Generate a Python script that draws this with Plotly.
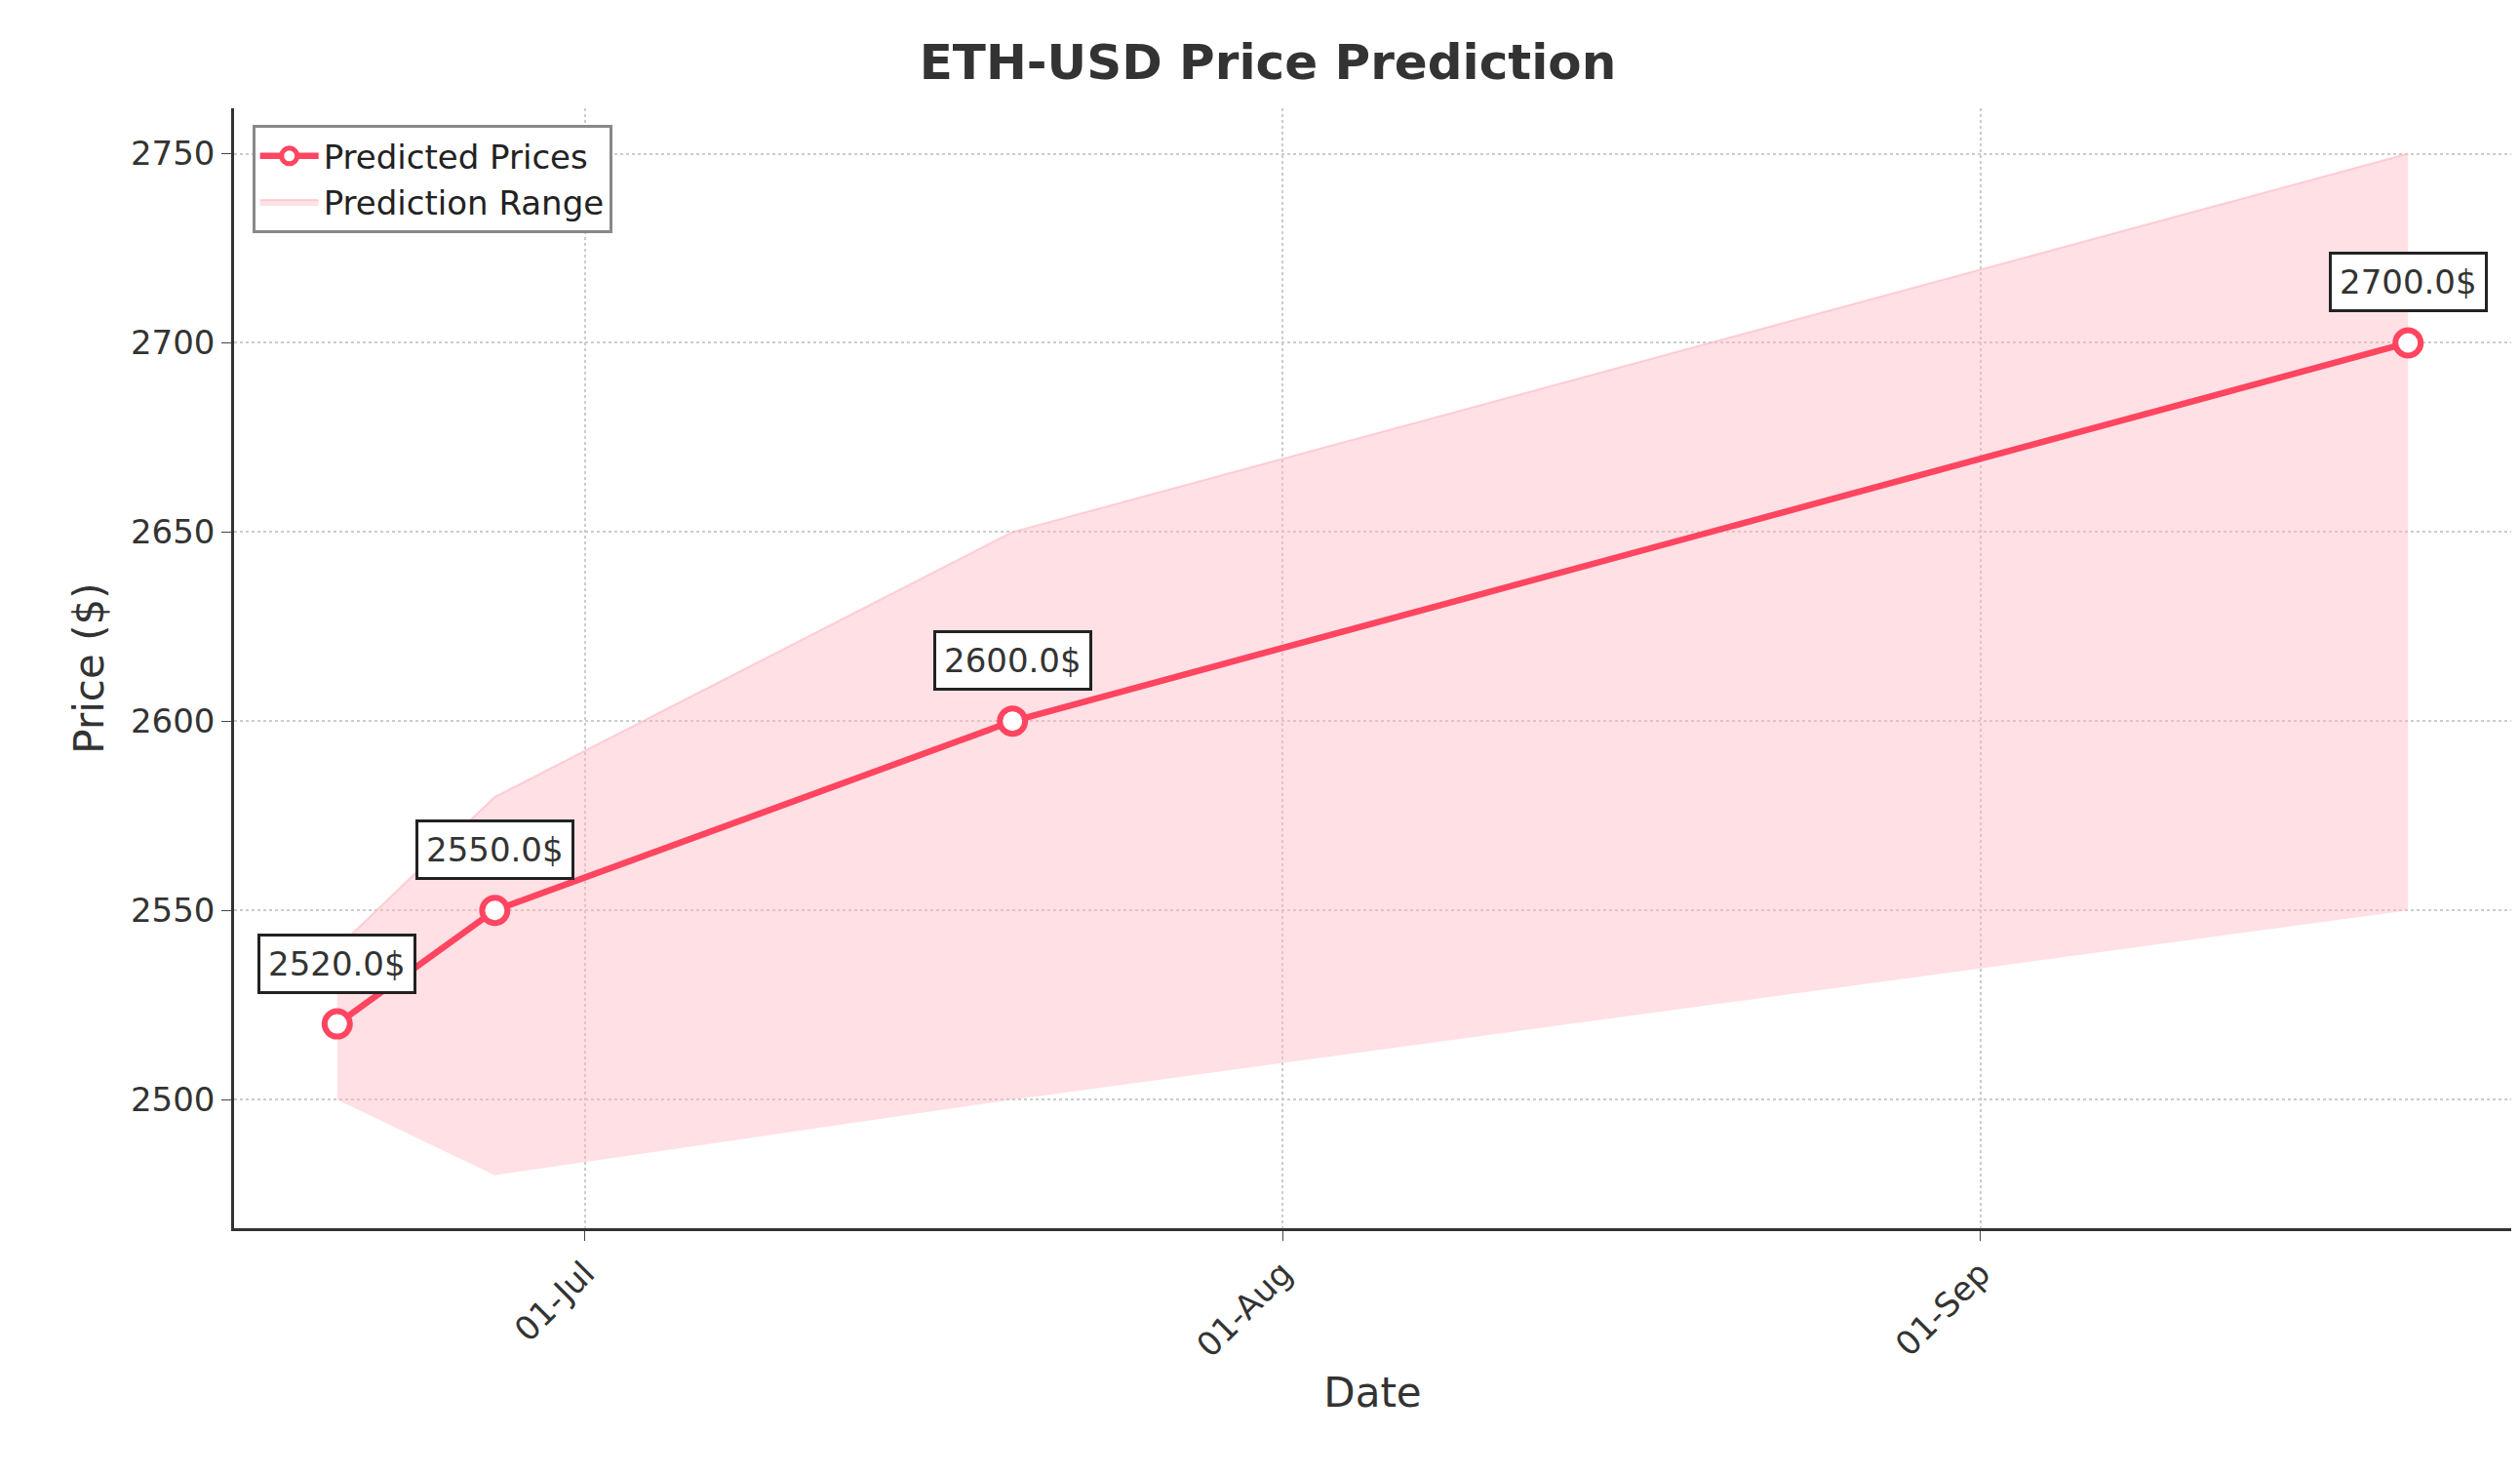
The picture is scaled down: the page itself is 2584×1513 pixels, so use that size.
import plotly.graph_objs as go

dates = ["2024-06-20", "2024-06-27", "2024-07-20", "2024-09-20"]
predicted = [2520.0, 2550.0, 2600.0, 2700.0]
lower = [2500, 2480, 2500, 2550]
upper = [2540, 2580, 2650, 2750]
tick_dates = ["2024-07-01", "2024-08-01", "2024-09-01"]
tick_labels = ["01-Jul", "01-Aug", "01-Sep"]

line_color = "#FF4560"
font = "DejaVu Sans"

fig = go.Figure()
fig.add_trace(go.Scatter(x=dates, y=lower, mode="lines", line=dict(width=0),
                         showlegend=False, hoverinfo="skip"))
fig.add_trace(go.Scatter(x=dates, y=upper, mode="lines", fill="tonexty",
                         fillcolor="rgba(255,182,193,0.42)",
                         line=dict(width=2, color="rgba(255,182,193,0.6)"),
                         name="Prediction Range"))
fig.add_trace(go.Scatter(x=dates, y=predicted, mode="lines+markers", name="Predicted Prices",
                         line=dict(color=line_color, width=6.5),
                         marker=dict(size=26, color="white", line=dict(color=line_color, width=6))))

for d, p in zip(dates, predicted):
    fig.add_annotation(x=d, y=p, text=f"{p}$", showarrow=False, yshift=62,
                       font=dict(size=34, color="#333", family=font),
                       bgcolor="white", bordercolor="#222", borderwidth=3, borderpad=8)

fig.update_layout(
    width=2584, height=1513,
    plot_bgcolor="white", paper_bgcolor="white",
    font=dict(family=font, size=34, color="#333"),
    title=dict(text="<b>ETH-USD Price Prediction</b>", x=0.5, xanchor="center",
               y=0.975, font=dict(size=50, color="#333")),
    margin=dict(l=232, r=17, t=103, b=262),
    legend=dict(x=0.008, y=0.985, xanchor="left", yanchor="top", bgcolor="white",
                bordercolor="#888", borderwidth=3, font=dict(size=34, color="#222"),
                traceorder="reversed", itemwidth=60),
    xaxis=dict(range=["2024-06-15 10:00", "2024-09-24 14:00"], tickvals=tick_dates,
               ticktext=tick_labels, tickangle=-45, showgrid=True,
               gridcolor="#ccc", griddash="dot", gridwidth=2, showline=True,
               linecolor="#333", linewidth=2.5, ticks="outside", ticklen=10,
               title=dict(text="Date", font=dict(size=42))),
    yaxis=dict(range=[2466, 2762], dtick=50, showgrid=True, gridcolor="#ccc",
               griddash="dot", gridwidth=2, showline=True, linecolor="#333",
               linewidth=2.5, ticks="outside", ticklen=10, zeroline=False,
               title=dict(text="Price ($)", font=dict(size=42))),
)

fig.write_html("out.html")
